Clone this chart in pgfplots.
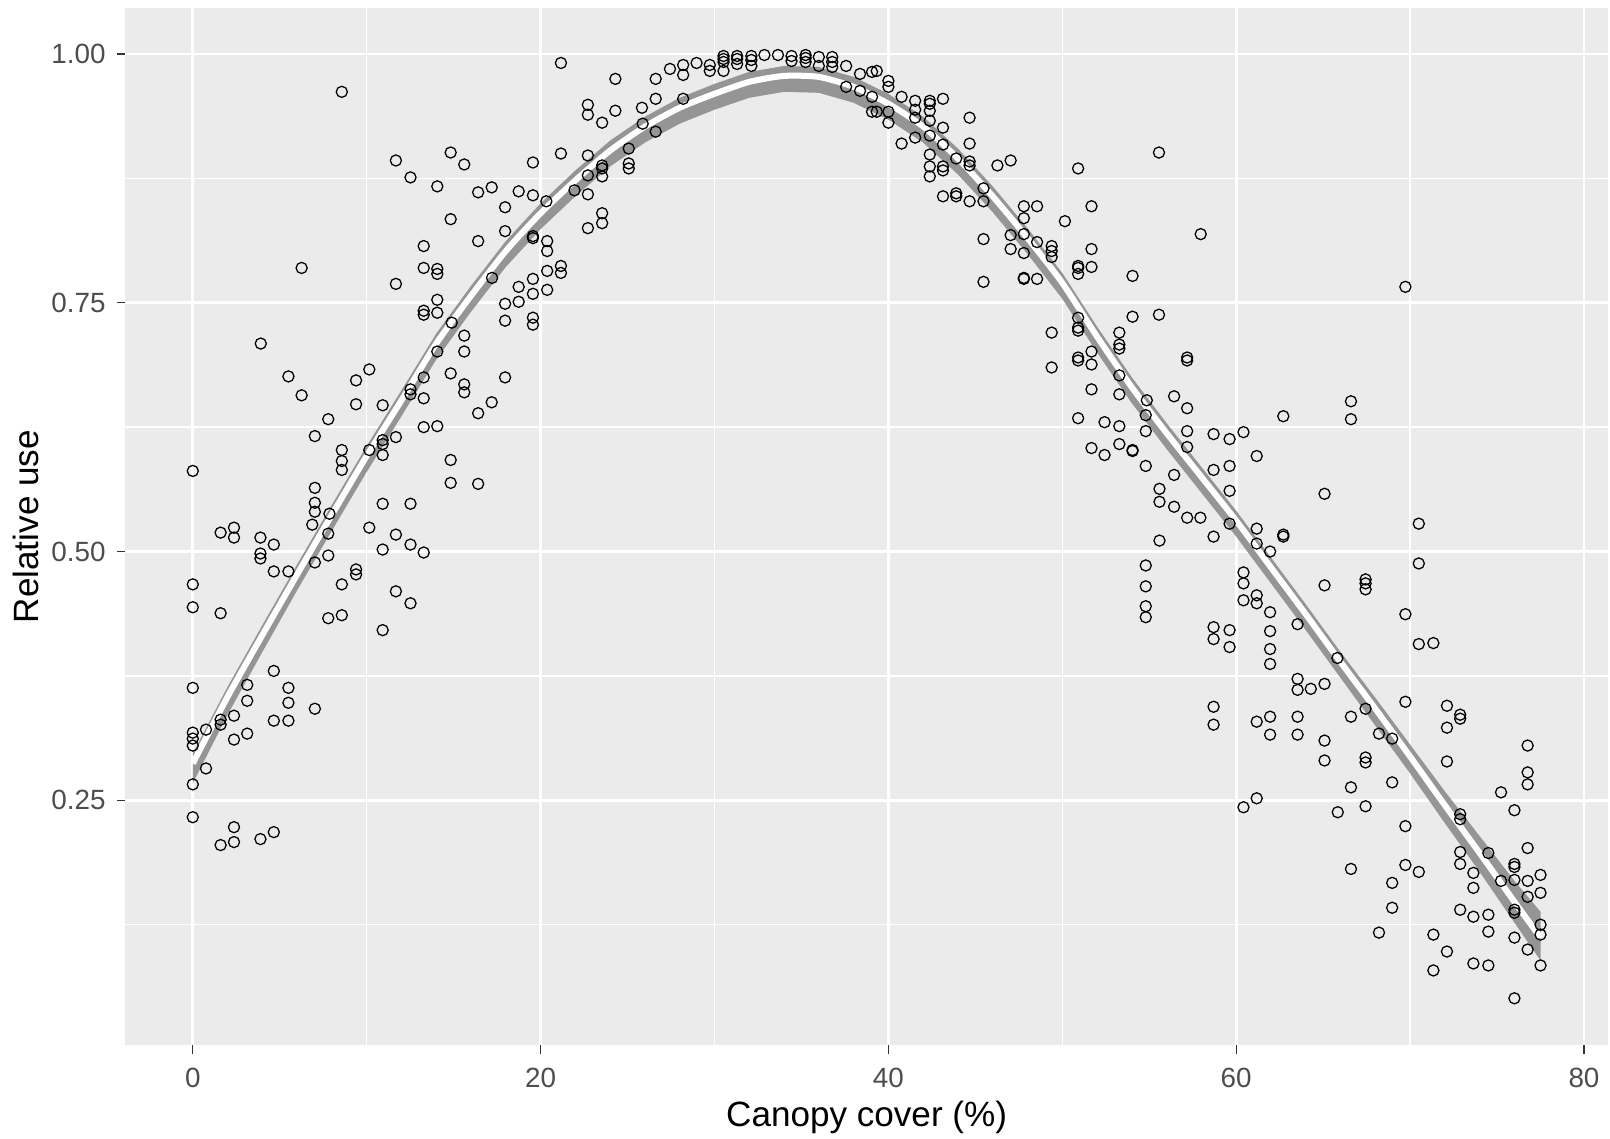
\documentclass[border=0pt]{standalone}
\usepackage{pgfplots}
\pgfplotsset{compat=1.18}
\usepackage{pgfplotstable}
\usepackage{fontspec}
\setmainfont{Liberation Sans}

\definecolor{panelbg}{HTML}{EBEBEB}
\definecolor{ticktext}{HTML}{4D4D4D}
\definecolor{tickmark}{HTML}{333333}
\definecolor{bandgrey}{HTML}{8C8C8C}

% observations: canopy cover (%) vs relative use
\pgfplotstableread{
x y
8.57 0.962
11.68 0.893
14.83 0.901
15.61 0.889
12.52 0.876
14.06 0.867
16.41 0.861
17.19 0.866
18.74 0.862
17.96 0.846
14.83 0.834
17.96 0.822
16.41 0.812
13.28 0.807
6.26 0.785
13.28 0.785
14.06 0.784
14.06 0.779
11.68 0.769
17.21 0.775
18.74 0.766
14.06 0.753
13.28 0.742
13.28 0.738
14.06 0.740
18.74 0.751
17.96 0.749
17.96 0.732
14.89 0.730
15.61 0.717
3.91 0.709
14.06 0.701
15.61 0.701
21.17 0.991
24.30 0.975
26.62 0.975
27.44 0.985
28.20 0.989
28.20 0.979
28.97 0.991
29.73 0.989
29.73 0.983
30.52 0.998
30.52 0.995
30.52 0.992
30.52 0.983
31.30 0.998
31.30 0.995
31.30 0.990
32.12 0.998
32.12 0.994
32.12 0.988
32.87 0.999
33.65 0.999
34.43 0.998
34.43 0.993
35.24 0.999
35.24 0.996
35.24 0.992
36.00 0.997
36.00 0.988
36.77 0.997
36.77 0.992
36.77 0.987
37.57 0.988
37.57 0.967
38.37 0.980
38.37 0.963
39.06 0.982
39.06 0.957
39.06 0.942
22.72 0.949
22.72 0.939
24.30 0.943
23.54 0.931
25.83 0.946
26.62 0.955
26.62 0.922
28.20 0.955
25.87 0.930
21.17 0.900
19.56 0.891
22.72 0.898
23.54 0.888
23.54 0.885
23.54 0.877
25.07 0.905
25.07 0.890
25.07 0.885
22.72 0.878
21.95 0.863
19.56 0.858
22.72 0.859
20.33 0.852
23.54 0.840
23.54 0.830
22.72 0.825
19.56 0.817
19.56 0.815
20.38 0.812
20.38 0.802
21.17 0.787
21.17 0.780
20.38 0.782
19.56 0.774
19.56 0.759
20.38 0.763
19.56 0.735
19.56 0.728
39.33 0.983
40.00 0.973
40.00 0.967
40.76 0.957
41.54 0.953
41.54 0.944
42.38 0.953
42.38 0.950
42.38 0.943
43.14 0.955
39.33 0.942
40.00 0.942
40.00 0.931
41.54 0.936
42.38 0.933
43.14 0.926
44.67 0.936
40.76 0.910
41.54 0.916
42.38 0.918
43.14 0.909
42.38 0.899
43.14 0.887
43.14 0.883
42.38 0.887
42.38 0.877
43.90 0.895
44.67 0.910
44.67 0.892
44.67 0.888
46.27 0.888
47.03 0.893
50.91 0.885
55.56 0.901
43.14 0.857
43.90 0.860
43.90 0.857
44.67 0.852
45.47 0.865
45.47 0.852
47.79 0.847
48.55 0.847
47.79 0.835
50.15 0.832
51.68 0.847
57.96 0.819
45.47 0.814
47.03 0.818
47.03 0.804
47.79 0.819
47.79 0.800
48.55 0.811
49.39 0.807
49.39 0.802
49.39 0.796
51.68 0.804
50.91 0.787
50.91 0.785
50.91 0.779
51.68 0.786
45.47 0.771
47.79 0.775
47.79 0.774
48.55 0.774
54.04 0.777
54.04 0.736
55.56 0.738
49.39 0.720
50.91 0.735
50.91 0.725
50.91 0.722
53.28 0.720
53.28 0.708
53.28 0.704
51.68 0.701
50.91 0.695
57.18 0.695
69.73 0.766
5.50 0.676
6.26 0.657
9.39 0.672
10.15 0.683
9.39 0.648
7.79 0.633
7.02 0.616
8.57 0.602
8.57 0.591
8.57 0.582
10.92 0.647
10.92 0.612
10.92 0.608
10.92 0.597
10.15 0.602
11.68 0.615
12.52 0.663
12.52 0.658
13.28 0.675
13.28 0.654
14.83 0.679
15.61 0.668
15.61 0.660
17.96 0.675
17.19 0.650
16.41 0.639
13.28 0.625
14.06 0.626
14.83 0.592
14.83 0.569
16.41 0.568
10.92 0.548
12.52 0.548
0.00 0.581
7.02 0.564
7.02 0.549
7.02 0.540
7.86 0.538
7.79 0.518
6.87 0.527
10.15 0.524
11.68 0.517
12.52 0.507
13.28 0.499
10.92 0.502
1.60 0.519
2.37 0.524
2.37 0.514
3.89 0.514
3.89 0.498
3.89 0.493
4.66 0.507
4.66 0.480
5.50 0.480
7.02 0.489
7.79 0.496
9.39 0.482
9.39 0.477
8.57 0.467
0.00 0.467
0.00 0.444
1.60 0.438
7.79 0.433
8.57 0.436
11.68 0.460
12.52 0.448
10.92 0.421
4.66 0.380
0.00 0.363
3.13 0.366
5.50 0.363
49.39 0.685
50.91 0.692
51.68 0.688
57.18 0.692
51.68 0.663
53.28 0.677
53.28 0.658
54.86 0.652
50.91 0.634
52.43 0.630
53.28 0.626
54.80 0.637
54.80 0.621
56.43 0.656
57.18 0.644
57.18 0.621
57.18 0.605
58.70 0.618
58.70 0.582
51.68 0.604
52.43 0.597
53.28 0.608
54.04 0.602
54.04 0.601
54.80 0.586
56.43 0.577
55.59 0.563
55.59 0.550
56.43 0.545
57.18 0.534
57.94 0.534
58.70 0.515
55.59 0.511
54.80 0.486
54.80 0.465
54.80 0.445
54.80 0.434
58.70 0.424
58.70 0.412
66.60 0.651
66.60 0.633
62.71 0.636
60.42 0.620
59.62 0.613
61.18 0.596
59.62 0.586
59.62 0.561
65.08 0.558
59.62 0.528
61.18 0.523
62.71 0.517
62.71 0.515
61.18 0.508
61.95 0.500
70.50 0.528
70.50 0.488
60.42 0.479
60.42 0.468
60.42 0.451
61.18 0.456
61.18 0.448
61.95 0.439
65.08 0.466
67.44 0.472
67.44 0.468
67.44 0.462
69.73 0.437
63.53 0.427
59.62 0.421
59.62 0.404
61.95 0.420
61.95 0.402
61.95 0.387
70.50 0.407
71.34 0.408
65.82 0.393
63.53 0.372
64.29 0.362
65.08 0.367
63.53 0.361
5.50 0.348
5.50 0.330
3.13 0.350
7.02 0.342
4.66 0.330
2.37 0.335
3.13 0.317
2.37 0.311
1.60 0.326
1.60 0.331
0.76 0.321
0.00 0.318
0.00 0.312
0.00 0.305
0.76 0.282
0.00 0.266
0.00 0.233
2.37 0.223
2.37 0.208
1.60 0.205
3.89 0.211
4.66 0.218
58.70 0.344
58.70 0.326
61.18 0.329
61.95 0.334
61.95 0.316
63.53 0.334
63.53 0.316
65.08 0.310
65.08 0.290
66.60 0.334
67.44 0.342
67.44 0.293
67.44 0.288
66.60 0.263
68.21 0.317
68.97 0.312
68.97 0.268
69.73 0.349
72.12 0.345
72.12 0.323
72.88 0.336
72.88 0.332
72.12 0.289
76.76 0.305
76.76 0.278
76.76 0.266
75.23 0.258
76.00 0.240
60.42 0.243
61.18 0.252
65.84 0.238
67.44 0.244
69.73 0.224
72.88 0.236
72.88 0.231
76.76 0.202
66.60 0.181
69.73 0.185
70.50 0.178
68.97 0.167
68.97 0.142
68.21 0.117
72.88 0.198
72.88 0.186
73.64 0.177
73.64 0.162
74.50 0.197
76.00 0.186
76.00 0.183
75.23 0.169
76.00 0.170
76.76 0.169
76.76 0.153
77.50 0.175
77.50 0.157
72.88 0.140
73.64 0.133
74.50 0.135
76.00 0.140
76.00 0.137
77.50 0.125
77.50 0.115
71.34 0.115
74.50 0.118
76.00 0.112
76.76 0.100
72.12 0.098
73.64 0.086
74.50 0.084
71.34 0.079
77.50 0.084
76.00 0.051
}\obs

% smoothed fit
\pgfplotstableread{
x y
0 0.287
2 0.354
4 0.416
6 0.477
8 0.537
10 0.596
12 0.652
14 0.709
16 0.757
18 0.802
20 0.840
22 0.873
24 0.903
26 0.927
28 0.946
30 0.960
32 0.972
34 0.978
36 0.977
38 0.967
40 0.950
42 0.927
44 0.895
46 0.857
48 0.815
50 0.770
52 0.716
54 0.665
56 0.619
58 0.575
60 0.531
62 0.484
64 0.437
66 0.389
68 0.342
70 0.294
72 0.245
74 0.197
76 0.148
77.5 0.112
}\fit

\begin{document}
\begin{tikzpicture}
\begin{axis}[
    name=ax,
    scale only axis,
    width=467bp, height=326.6bp,
    xmin=-3.875, xmax=81.375,
    ymin=0.004, ymax=1.046,
    axis background/.style={fill=panelbg},
    axis line style={draw=none},
    xtick={0,20,40,60,80},
    minor xtick={10,30,50,70},
    ytick={0.25,0.5,0.75,1},
    yticklabels={0.25,0.50,0.75,1.00},
    minor ytick={0.125,0.375,0.625,0.875},
    grid=both,
    major grid style={white, line width=0.85bp},
    minor grid style={white, line width=0.42bp},
    xtick pos=bottom, ytick pos=left,
    tick align=outside,
    major tick length=2.7bp, minor tick length=0pt,
    tick style={color=tickmark, line width=0.35bp},
    /pgf/number format/assume math mode=true,
    ticklabel style={font=\fontsize{8.8}{10}\selectfont, text=ticktext},
    xticklabel style={yshift=-1bp},
    xlabel={Canopy cover (\%)},
    ylabel={Relative use},
    label style={font=\fontsize{11.1}{13}\selectfont, text=black, overlay},
    xlabel style={at={(axis description cs:0.5,-0.070)}, anchor=center},
    ylabel style={at={(axis description cs:-0.067,0.5)}, anchor=center},
]
\addplot[only marks, mark=o, mark size=1.75bp,
    mark options={line width=0.4bp, draw=black}] table[x=x, y=y] {\obs};
\addplot[fill=bandgrey, draw=none, fill opacity=0.9] coordinates {
(0,0.297) (2,0.364) (4,0.426) (6,0.487) (8,0.547) (10,0.606) (12,0.662)
(14,0.719) (16,0.767) (18,0.812) (20,0.850) (22,0.883) (24,0.913)
(26,0.937) (28,0.956) (30,0.970) (32,0.982) (34,0.988) (36,0.987)
(38,0.977) (40,0.960) (42,0.937) (44,0.905) (46,0.867) (48,0.825)
(50,0.780) (52,0.726) (54,0.675) (56,0.629) (58,0.585) (60,0.541)
(62,0.494) (64,0.447) (66,0.399) (68,0.353) (70,0.306) (72,0.259)
(74,0.214) (76,0.169) (77.5,0.138)
(77.5,0.089) (76,0.127) (74,0.178) (72,0.227) (70,0.277) (68,0.325)
(66,0.373) (64,0.421) (62,0.468) (60,0.515) (58,0.559) (56,0.603)
(54,0.649) (52,0.700) (50,0.754) (48,0.799) (46,0.841) (44,0.879)
(42,0.911) (40,0.934) (38,0.951) (36,0.961) (34,0.962) (32,0.956)
(30,0.944) (28,0.930) (26,0.911) (24,0.887) (22,0.857) (20,0.824)
(18,0.786) (16,0.741) (14,0.693) (12,0.636) (10,0.580) (8,0.521)
(6,0.461) (4,0.399) (2,0.336) (0,0.267)
} -- cycle;
\addplot[white, line width=1.9bp, smooth, tension=0.4] table[x=x, y=y] {\fit};
\end{axis}
\path ([xshift=-39.5bp,yshift=-29.3bp]ax.south west) rectangle ([xshift=0.6bp,yshift=2.6bp]ax.north east);
\end{tikzpicture}
\end{document}
